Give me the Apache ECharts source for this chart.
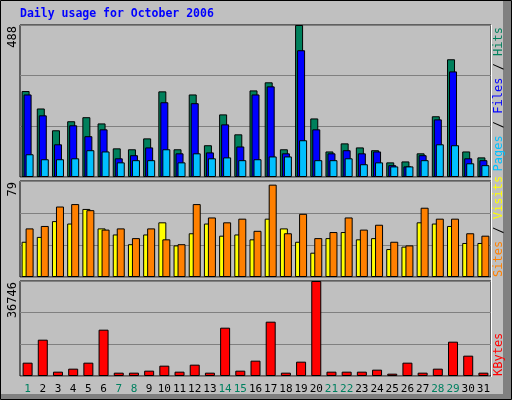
<!DOCTYPE html>
<html><head><meta charset="utf-8">
<script src="https://cdn.jsdelivr.net/npm/echarts@6/dist/echarts.min.js"></script>
<style>html,body{margin:0;padding:0;background:#c0c0c0}#main{width:512px;height:400px}</style>
</head><body><div id="main"></div>
<script>
var days = ['1','2','3','4','5','6','7','8','9','10','11','12','13','14','15','16','17','18','19','20','21','22','23','24','25','26','27','28','29','30','31'];
var weekend = ['1','7','8','14','15','21','22','28','29'];
var hits  = [276,220,150,179,192,172,92,89,124,275,89,265,102,201,137,278,304,89,488,188,82,108,95,86,47,50,76,195,378,82,63];
var files = [265,198,105,166,131,153,60,70,95,240,76,237,79,169,98,265,291,76,407,153,76,86,76,82,38,34,70,185,339,60,54];
var pages = [73,57,57,60,86,82,47,54,54,89,47,76,60,63,54,57,66,66,118,54,54,60,41,47,34,34,54,105,102,44,38];
var visits = [29,33,46,44,56,40,35,27,35,45,26,36,44,34,35,31,48,40,29,20,32,37,31,32,23,25,45,44,42,28,28];
var sites  = [40,42,58,60,55,39,40,32,40,31,27,60,49,45,48,38,76,36,52,32,37,49,39,43,29,26,57,48,48,36,34];
var kbytes = [5156,14050,1676,2836,5156,17918,1289,1289,2062,3996,1676,4383,1289,18690,2062,5930,21010,1289,5543,36746,1676,1676,1676,2449,902,5156,1289,2836,13277,7863,1289];
var maxHits = 488, maxSites = 79, maxKB = 36746;

var mono = 'DejaVu Sans Mono';
var chart = echarts.init(document.getElementById('main'));

function grid(top, h) {
  return {left: 20, right: 21, top: top, height: h, show: true, backgroundColor: '#c0c0c0', borderColor: '#000', borderWidth: 1};
}
function xAx(i, labels) {
  return {type: 'category', gridIndex: i, data: days, axisLine: {show: false}, axisTick: {show: false},
    axisLabel: labels ? {fontFamily: mono, fontSize: 11, margin: 8, interval: 0,
      formatter: function (v) { return weekend.indexOf(v) >= 0 ? '{w|' + v + '}' : v; },
      color: '#000', rich: {w: {color: '#008060', fontFamily: mono, fontSize: 11}}} : {show: false}};
}
function yAx(i, max) {
  return {type: 'value', gridIndex: i, min: 0, max: max, interval: max / 3, axisLabel: {show: false},
    axisLine: {show: false}, axisTick: {show: false}, splitLine: {lineStyle: {color: '#808080', width: 1}}};
}
function bar(name, data, i, color, w, gap) {
  return {name: name, type: 'bar', xAxisIndex: i, yAxisIndex: i, data: data, barWidth: w, barGap: gap,
    silent: true, animation: false, itemStyle: {color: color, borderColor: '#000', borderWidth: 1}};
}
function vtext(x, y, align, rich, text) {
  return {type: 'text', x: x, y: y, rotation: Math.PI / 2,
    style: {text: text, align: align, verticalAlign: 'middle', font: '12px ' + mono, fill: '#000', rich: rich}};
}

chart.setOption({
  backgroundColor: '#c0c0c0',
  animation: false,
  grid: [grid(25, 152), grid(181, 96), grid(281, 95)],
  xAxis: [xAx(0, false), xAx(1, false), xAx(2, true)],
  yAxis: [yAx(0, maxHits), yAx(1, maxSites), yAx(2, maxKB)],
  series: [
    bar('Hits', hits, 0, '#00805c', 8, '-75%'),
    bar('Files', files, 0, '#0000ff', 8, '-75%'),
    bar('Pages', pages, 0, '#00c0ff', 8, '-75%'),
    bar('Visits', visits, 1, '#ffff00', 8, '-50%'),
    bar('Sites', sites, 1, '#ff8000', 8, '-50%'),
    bar('KBytes', kbytes, 2, '#ff0000', 10, '0%')
  ],
  graphic: [
    {type: 'rect', shape: {x: 0.5, y: 0.5, width: 511, height: 399}, style: {fill: 'none', stroke: '#000'}},
    {type: 'rect', shape: {x: 503, y: 1, width: 8, height: 398}, style: {fill: '#808080'}},
    {type: 'rect', shape: {x: 1, y: 394, width: 510, height: 5}, style: {fill: '#808080'}},
    {type: 'line', shape: {x1: 21, y1: 177.5, x2: 491, y2: 177.5}, style: {stroke: '#fff'}},
    {type: 'line', shape: {x1: 491.5, y1: 25, x2: 491.5, y2: 377}, style: {stroke: '#fff'}},
    {type: 'text', x: 20, y: 14, style: {text: 'Daily usage for October 2006', font: 'bold 11.5px ' + mono, fill: '#0000ff', verticalAlign: 'middle'}},
    vtext(13, 26, 'right', {}, String(maxHits)),
    vtext(13, 182, 'right', {}, String(maxSites)),
    vtext(13, 282, 'right', {}, String(maxKB)),
    vtext(499, 27, 'right', {p: {fill: '#00c0ff'}, f: {fill: '#0000ff'}, h: {fill: '#00805c'}},
      '{p|Pages} / {f|Files} / {h|Hits}'),
    vtext(499, 277, 'left', {s: {fill: '#ff8000'}, v: {fill: '#ffff00'}}, '{s|Sites} / {v|Visits}'),
    vtext(499, 376, 'left', {k: {fill: '#ff0000'}}, '{k|KBytes}')
  ]
});
</script></body></html>
